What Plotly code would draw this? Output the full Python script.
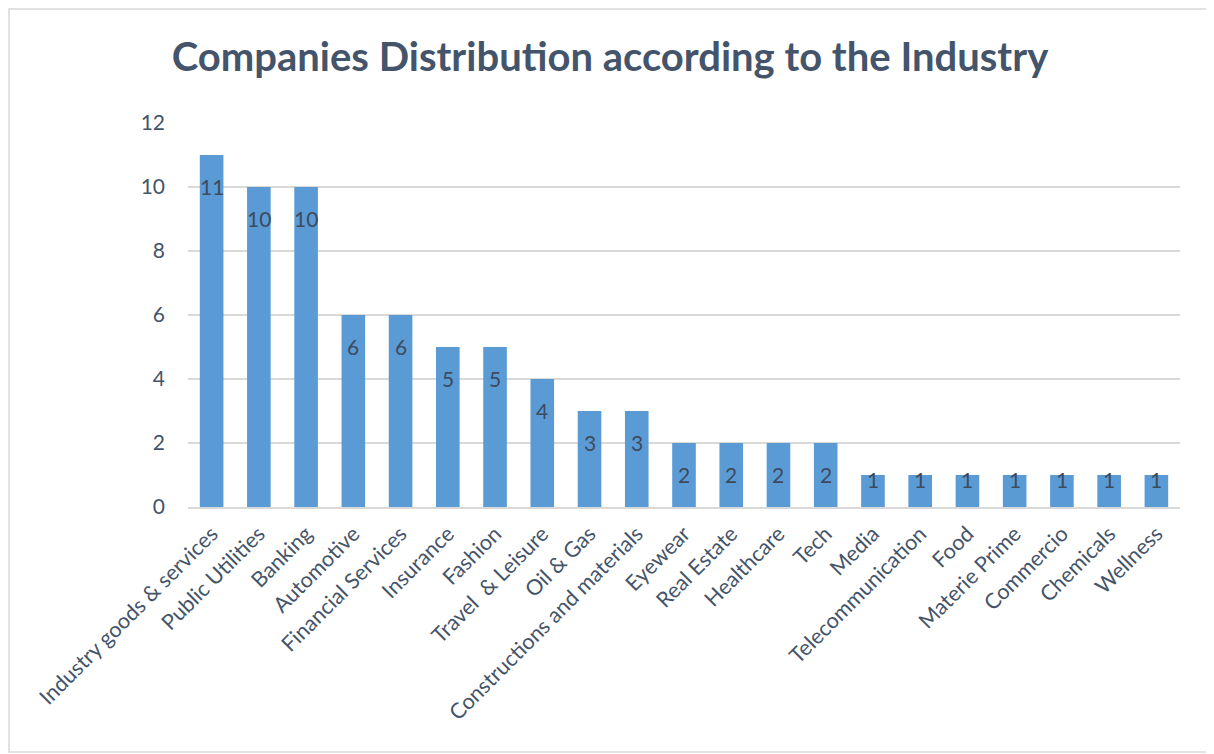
import plotly.graph_objects as go

industries = [
    "Industry goods & services", "Public Utilities", "Banking", "Automotive",
    "Financial Services", "Insurance", "Fashion", "Travel  & Leisure",
    "Oil & Gas", "Constructions and materials", "Eyewear", "Real Estate",
    "Healthcare", "Tech", "Media", "Telecommunication", "Food",
    "Materie Prime", "Commercio", "Chemicals", "Wellness",
]
companies = [11, 10, 10, 6, 6, 5, 5, 4, 3, 3, 2, 2, 2, 2, 1, 1, 1, 1, 1, 1, 1]
y_ticks = [0, 2, 4, 6, 8, 10, 12]

TEXT = "#44546A"
FONT = "Lato"

fig = go.Figure()
fig.add_trace(go.Bar(
    x=industries,
    y=companies,
    marker=dict(color="#5B9BD5", line=dict(width=0)),
    hoverinfo="x+y",
))

# data labels sit inside the end of each bar, like in Excel
for name, val in zip(industries, companies):
    fig.add_annotation(
        x=name, y=val, text=str(val), showarrow=False,
        yanchor="middle", yshift=-31 if val >= 2 else -4,
        font=dict(family=FONT, size=21, color="#3E4A5E"),
    )

# page has an 8px body margin, so the figure is a bit smaller than the window
W, H = 1206, 746
L, R, T, B = 180, 34, 115, 247
pw, ph = W - L - R, H - T - B
fig.add_shape(
    type="rect", xref="paper", yref="paper",
    x0=(1 - L) / pw, x1=(1205 - L) / pw,
    y0=(H - B - 744) / ph, y1=(H - B - 1) / ph,
    line=dict(color="#D9D9D9", width=1.5), fillcolor="rgba(0,0,0,0)",
    layer="below",
)

fig.update_layout(
    width=W, height=H,
    margin=dict(l=L, r=R, t=T, b=B),
    paper_bgcolor="white", plot_bgcolor="white",
    bargap=0.5,
    showlegend=False,
    title=dict(
        text="<b>Companies Distribution according to the Industry</b>",
        x=(602 - L) / pw, xref="paper", xanchor="center",
        y=1 - 49 / H, yanchor="middle",
        font=dict(family=FONT, size=40, color=TEXT),
    ),
    font=dict(family=FONT, color=TEXT),
)
fig.update_xaxes(
    tickangle=-45, tickfont=dict(family=FONT, size=21.5, color=TEXT),
    showgrid=False, showline=True, linecolor="#D9D9D9", linewidth=1.5,
    ticks="", fixedrange=True, ticklabelstandoff=4,
)
fig.update_yaxes(
    range=[0, 12], tickvals=y_ticks,
    tickfont=dict(family=FONT, size=21, color=TEXT),
    showgrid=True, gridcolor="#D9D9D9", gridwidth=1.5,
    zeroline=False, showline=False, ticks="",
    ticklabelstandoff=22,
)

fig.write_html("out.html")
